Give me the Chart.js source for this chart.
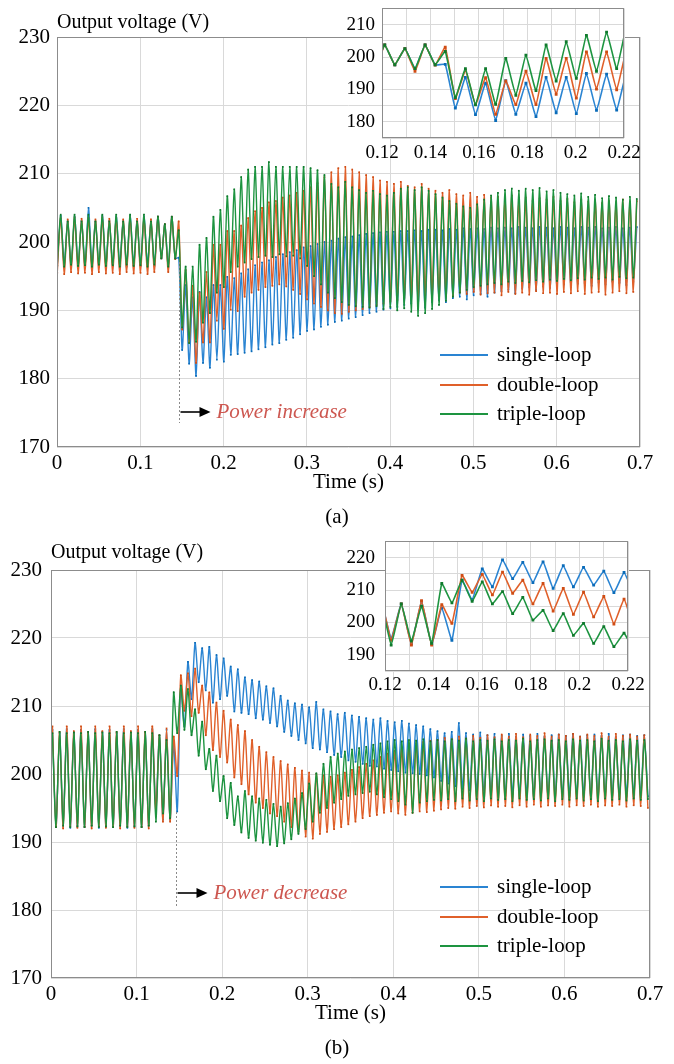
<!DOCTYPE html>
<html>
<head>
<meta charset="utf-8">
<script src="https://cdn.jsdelivr.net/npm/chart.js@4.4.0/dist/chart.umd.min.js"></script>
<style>
  body { margin: 0; background: #fff; width: 674px; height: 1064px; position: relative; overflow: hidden; }
  canvas { position: absolute; }
</style>
</head>
<body>
<canvas id="mainA" width="674" height="530" style="left:0;top:0;width:674px;height:530px"></canvas>
<canvas id="insetA" width="320" height="182" style="left:330px;top:-10px;width:320px;height:182px"></canvas>
<canvas id="mainB" width="674" height="534" style="left:0;top:530px;width:674px;height:534px"></canvas>
<canvas id="insetB" width="320" height="182" style="left:330px;top:520px;width:320px;height:182px"></canvas>
<script>
//series names + colours (line, marker)
const seriesNames = ["single-loop", "double-loop", "triple-loop"];
const lineColors = ["#2a84d2", "#e0602a", "#1d9440"];
const dotColors = ["#0a6bb8", "#cf4c14", "#0f7a2c"];

//ripple is 120 Hz, one peak + one trough per cycle
const period = 1 / 120;

//(a) power increase: troughs start at t=0.0003 s, peaks half a period later
const aStart = 0.0003;
const aSingleLo = [196.5, 196.8, 196.4, 196.6, 196.5, 196.7, 196.4, 196.6, 196.5, 196.8, 196.4, 196.6, 196.5, 196.7, 196.5, 197.6, 196.4,
  197.6, 184.2, 182.2, 180.4, 182.3, 181.6, 182.8, 182.5, 183.5, 183.6,
  183.8, 184.0, 184.3, 184.6, 185.0, 185.2, 185.7, 186.0, 186.5, 187.0, 187.2, 187.6, 187.9, 188.3, 188.5, 188.8, 189.0, 189.3,
  189.6, 189.8, 190.1, 190.3, 190.5, 190.8, 191.0, 191.0, 190.4, 191.2, 191.5, 191.2, 191.8, 192.0, 191.6, 192.2, 192.4, 192.0,
  192.6, 192.8, 193.0, 192.5, 193.2, 193.4, 193.0, 193.5, 193.3, 193.6, 193.8, 193.4, 193.9, 194.0, 193.6, 194.1, 193.8, 194.2, 194.0, 193.7, 194.2];
const aSingleHi = [203.8, 203.0, 203.7, 203.1, 205.0, 203.0, 203.8, 203.1, 203.7, 203.0, 203.8, 203.1, 203.7, 203.0, 203.7, 202.6, 203.7,
  197.7, 193.7, 191.9, 192.7, 191.9, 193.7, 193.7, 194.9, 194.7, 195.4,
  196.0, 196.6, 197.0, 197.3, 197.8, 198.2, 198.5, 198.8, 199.2, 199.4, 199.7, 200.0, 200.2, 200.5, 200.7, 200.8, 201.0, 201.2,
  201.3, 201.4, 201.5, 201.5, 201.6, 201.6, 201.7, 201.6, 201.8, 201.8, 201.7, 201.9, 201.8, 202.0, 201.9, 202.0, 201.9, 202.1,
  202.0, 202.1, 202.0, 202.2, 202.1, 202.0, 202.2, 202.1, 202.0, 202.2, 202.1, 202.0, 202.2, 202.1, 202.2, 202.0, 202.1, 202.2, 202.0, 202.1, 202.2];
const aDoubleLo = [195.5, 195.3, 195.6, 195.4, 195.5, 195.3, 195.6, 195.4, 195.5, 195.3, 195.6, 195.4, 195.5, 195.3, 195.6, 197.6, 195.6,
  197.5, 187.2, 185.3, 182.3, 185.3, 185.3, 188.5, 187.3, 190.1, 189.9,
  192.0, 192.6, 193.0, 193.4, 193.6, 193.8, 193.5, 193.0, 192.4, 191.6, 191.0, 190.5, 190.0, 189.6, 189.5, 189.8, 190.0, 190.2,
  190.5, 190.8, 191.0, 191.3, 191.5, 191.8, 192.0, 191.6, 192.2, 192.3, 192.0, 192.5, 192.2, 192.6, 192.4, 192.7, 192.3, 192.5,
  192.6, 192.2, 192.7, 192.4, 192.6, 192.3, 192.8, 192.5, 192.6, 192.4, 192.7, 192.5, 192.8, 192.4, 192.6, 192.7, 192.3, 192.6, 192.8, 192.5, 192.7];
const aDoubleHi = [203.5, 203.3, 203.6, 203.4, 203.5, 203.3, 203.6, 203.4, 203.5, 203.3, 203.6, 203.4, 203.5, 203.3, 203.7, 202.6, 203.7,
  203.0, 195.9, 193.6, 192.6, 195.6, 199.6, 199.6, 201.6, 201.6, 202.4,
  203.5, 204.5, 205.0, 205.8, 206.0, 206.5, 206.8, 207.2, 207.5, 208.0, 208.6, 209.5, 210.2, 210.8, 211.0, 210.6, 210.2, 209.8,
  209.5, 209.0, 208.8, 208.5, 208.8, 208.2, 208.0, 208.5, 207.8, 207.5, 207.2, 207.6, 207.0, 206.8, 207.2, 206.6, 206.9, 206.5,
  206.6, 206.3, 206.8, 206.2, 206.5, 206.0, 206.4, 206.2, 206.6, 206.0, 206.3, 205.8, 206.2, 205.9, 206.1, 205.7, 206.0, 205.8, 206.2, 205.9, 206.0];
const aTripleLo = [196.6, 196.4, 196.7, 196.5, 196.6, 196.4, 196.7, 196.5, 196.6, 196.4, 196.7, 196.5, 196.6, 196.4, 196.7, 197.6, 196.4,
  197.6, 187.5, 185.2, 185.4, 188.2, 189.6, 192.6, 193.4, 195.6, 196.4,
  197.0, 197.5, 197.8, 198.0, 197.8, 198.2, 197.9, 198.0, 197.6, 196.5, 195.0, 193.8, 192.6, 191.8, 191.2, 190.8, 190.6, 190.5,
  190.4, 190.6, 190.2, 190.5, 190.0, 190.3, 189.8, 189.2, 189.6, 190.2, 190.8, 191.4, 192.0, 192.6, 193.0, 193.4, 193.6, 193.8,
  194.0, 193.8, 194.2, 194.0, 194.3, 194.1, 194.4, 194.2, 194.5, 194.3, 194.6, 194.4, 194.7, 194.5, 194.8, 194.6, 194.8, 194.5, 194.9, 194.7, 194.8];
const aTripleHi = [204.0, 203.0, 204.0, 203.0, 204.0, 203.0, 204.0, 203.0, 204.0, 203.0, 204.0, 203.0, 204.0, 203.0, 203.7, 202.6, 203.7,
  201.7, 196.4, 196.4, 199.6, 200.6, 203.7, 204.7, 206.7, 207.7, 209.5,
  210.6, 211.0, 211.0, 211.7, 211.0, 211.0, 211.0, 211.0, 211.0, 210.8, 210.5, 209.8, 208.5, 208.0, 208.8, 208.0, 207.6, 207.2,
  207.5, 207.0, 206.8, 207.2, 207.8, 208.0, 207.6, 208.0, 207.5, 207.0, 206.5, 206.0, 205.6, 205.2, 205.0, 205.5, 206.2, 206.8,
  207.2, 207.6, 207.8, 207.5, 207.8, 207.6, 207.9, 207.4, 207.6, 207.2, 207.0, 206.8, 207.1, 206.6, 206.9, 206.4, 206.7, 206.5, 206.2, 206.6, 206.3];

//(b) power decrease: peaks start at t=0.0017 s, troughs half a period later
const bStart = 0.0017;
const bSingleHi = [206.5, 206.0, 206.6, 206.1, 206.5, 206.0, 206.6, 206.1, 206.5, 206.0, 206.6, 206.1, 206.5, 206.0, 206.6, 205.7, 206.5,
  204.5, 213.0, 216.5, 219.3, 218.5, 218.7, 217.5, 217.0, 215.8, 215.4,
  214.2, 213.8, 213.6, 212.9, 212.6, 211.5, 210.8, 210.4, 210.2, 209.8, 210.6, 209.5, 209.2, 208.8, 209.0, 208.6, 208.4, 208.2,
  208.0, 208.2, 207.8, 207.6, 207.8, 207.4, 207.2, 207.0, 206.6, 206.3, 206.0, 206.2, 207.5, 206.0, 205.8, 206.1, 205.7, 205.9,
  205.6, 205.9, 205.5, 205.8, 205.6, 205.9, 205.5, 205.7, 205.8, 205.6, 205.9, 205.5, 205.7, 205.8, 205.6, 205.9, 205.5, 205.7, 205.8, 205.6, 205.7];
const bSingleLo = [192.2, 192.4, 192.1, 192.3, 192.2, 192.4, 192.1, 192.3, 192.2, 192.4, 192.1, 192.3, 192.2, 192.4, 195.0, 193.3, 193.3,
  194.5, 207.0, 211.0, 213.5, 212.3, 210.5, 211.0, 211.5, 209.2, 209.0,
  208.8, 208.2, 208.0, 207.5, 207.0, 206.2, 205.6, 205.0, 204.5, 203.8, 203.6, 203.2, 202.8, 202.5, 202.0, 201.8, 201.5, 201.2,
  201.1, 200.8, 200.6, 200.4, 200.2, 200.1, 200.0, 199.8, 199.5, 199.0, 198.6, 198.2, 197.8, 197.6, 197.4, 197.2, 197.0, 196.9,
  196.8, 197.0, 196.7, 196.9, 196.6, 196.8, 196.7, 196.9, 196.6, 196.8, 196.7, 196.9, 196.6, 196.8, 196.7, 196.9, 196.6, 196.8, 196.7, 196.9, 196.7];
const bDoubleHi = [207.0, 206.2, 207.0, 206.3, 207.0, 206.2, 207.0, 206.3, 207.0, 206.2, 207.0, 206.3, 207.0, 206.2, 207.0, 205.7, 206.7,
  205.5, 214.5, 214.8, 215.5, 213.0, 212.0, 210.5, 209.3, 208.0, 207.2,
  206.3, 205.0, 204.0, 203.2, 202.5, 201.9, 201.4, 200.9, 200.5, 200.2, 200.0, 199.8, 199.6, 199.8, 200.2, 200.6, 201.0, 201.5,
  202.0, 202.5, 203.0, 203.4, 203.8, 204.2, 204.5, 204.7, 204.9, 205.0, 205.3, 205.1, 205.5, 205.2, 205.6, 205.3, 205.7, 205.4,
  205.8, 205.5, 205.9, 205.4, 205.8, 205.6, 206.0, 205.5, 205.8, 205.6, 205.9, 205.5, 205.8, 205.6, 206.0, 205.5, 205.9, 205.6, 205.8, 205.5, 205.7];
const bDoubleLo = [192.2, 192.0, 192.3, 192.1, 192.2, 192.0, 192.3, 192.1, 192.2, 192.0, 192.3, 192.1, 192.2, 192.0, 194.5, 193.0, 193.0,
  199.7, 209.3, 208.5, 209.0, 205.7, 203.5, 202.5, 201.7, 199.5, 198.5,
  197.0, 195.8, 195.0, 194.2, 193.8, 193.0, 192.2, 191.5, 190.8, 190.5, 191.2, 191.5, 191.9, 192.2, 192.6, 193.0, 193.5, 193.8,
  194.0, 194.3, 194.5, 194.2, 194.0, 194.3, 194.5, 194.4, 194.6, 194.8, 195.0, 194.9, 195.2, 195.0, 195.3, 195.1, 195.4, 195.2,
  195.3, 195.1, 195.4, 195.2, 195.5, 195.2, 195.4, 195.3, 195.5, 195.2, 195.4, 195.3, 195.5, 195.2, 195.4, 195.3, 195.5, 195.2, 195.4, 195.3, 195.0];
const bTripleHi = [206.0, 206.2, 206.0, 206.1, 206.0, 206.2, 206.0, 206.1, 206.0, 206.2, 206.0, 206.1, 206.0, 206.2, 206.0, 205.7, 205.0,
  212.0, 213.0, 212.5, 209.5, 207.7, 203.7, 202.7, 199.7, 198.7, 196.7,
  197.5, 196.7, 196.4, 196.2, 195.6, 195.2, 195.7, 196.4, 197.2, 198.6, 200.1, 201.5, 202.5, 203.0, 203.3, 203.6, 203.8, 204.0,
  204.3, 204.5, 204.8, 205.0, 204.8, 205.0, 204.9, 205.1, 204.8, 205.0, 204.8, 205.1, 204.9, 205.2, 204.8, 205.0, 204.9, 205.1,
  204.8, 205.0, 204.9, 205.2, 204.8, 205.0, 205.1, 204.9, 205.0, 204.8, 205.1, 204.9, 205.0, 204.8, 205.2, 204.9, 205.0, 204.8, 205.1, 204.9, 205.0];
const bTripleLo = [192.2, 192.4, 192.2, 192.3, 192.2, 192.4, 192.2, 192.3, 192.2, 192.4, 192.2, 192.3, 192.2, 192.4, 193.0, 194.2, 193.5,
  206.0, 206.5, 205.7, 202.7, 200.7, 197.5, 196.0, 193.5, 192.5, 191.4,
  190.6, 190.2, 189.9, 189.6, 189.4, 189.8, 190.4, 191.2, 191.9, 193.0, 194.3, 195.0, 195.8, 196.3, 196.8, 197.0, 197.2, 197.4,
  197.0, 196.6, 196.3, 196.0, 195.5, 194.3, 195.8, 196.0, 196.2, 196.1, 196.3, 196.0, 196.4, 196.1, 196.3, 196.0, 196.4, 196.2,
  196.3, 196.0, 196.4, 196.2, 196.3, 196.1, 196.4, 196.0, 196.3, 196.2, 196.4, 196.1, 196.3, 196.0, 196.4, 196.2, 196.3, 196.1, 196.4, 196.2, 196.3];

//axis ranges
const mainXRange = [0, 0.7], mainYRange = [170, 230];
const insetXRange = [0.12, 0.22];
const insetARange = [175, 215], insetBRange = [185, 225];

const serif = "'Liberation Serif', 'Times New Roman', serif";
Chart.defaults.font.family = serif;

//turn peak/trough lists into {x,y} points
function toPoints(hi, lo, t0, loFirst) {
  const pts = [];
  for (let k = 0; k < hi.length; k++) {
    const t = t0 + k * period;
    if (loFirst) {
      pts.push({ x: t, y: lo[k] }, { x: t + period / 2, y: hi[k] });
    } else {
      pts.push({ x: t, y: hi[k] }, { x: t + period / 2, y: lo[k] });
    }
  }
  return pts;
}

const seriesA = [toPoints(aSingleHi, aSingleLo, aStart, true), toPoints(aDoubleHi, aDoubleLo, aStart, true), toPoints(aTripleHi, aTripleLo, aStart, true)];
const seriesB = [toPoints(bSingleHi, bSingleLo, bStart, false), toPoints(bDoubleHi, bDoubleLo, bStart, false), toPoints(bTripleHi, bTripleLo, bStart, false)];

//box, captions, legend and the power step marker
const decorPlugin = {
  id: "decor",
  beforeDraw(chart, args, o) {
    if (!o.whiteArea) return;
    const a = chart.chartArea, ctx = chart.ctx;
    ctx.save();
    ctx.fillStyle = "#fff";
    ctx.fillRect(a.left, a.top, a.right - a.left, a.bottom - a.top);
    ctx.restore();
  },
  afterDraw(chart, args, o) {
    const ctx = chart.ctx, a = chart.chartArea;
    ctx.save();
    ctx.strokeStyle = "#8c8c8c";
    ctx.lineWidth = 1;
    ctx.strokeRect(Math.round(a.left) + 0.5, Math.round(a.top) + 0.5, Math.round(a.right - a.left) - 1, Math.round(a.bottom - a.top) - 1);
    ctx.fillStyle = "#000";

    if (o.caption) {
      ctx.font = "20px " + serif;
      ctx.textAlign = "left";
      ctx.textBaseline = "alphabetic";
      ctx.fillText(o.caption.text, a.left, o.caption.y);
    }
    if (o.xTitle) {
      ctx.font = "21px " + serif;
      ctx.textAlign = "center";
      ctx.textBaseline = "middle";
      ctx.fillText(o.xTitle.text, (a.left + a.right) / 2, o.xTitle.y);
      ctx.fillText(o.sub.text, o.sub.x, o.sub.y);
    }
    if (o.marker) {
      const m = o.marker;
      const x = Math.round(chart.scales.x.getPixelForValue(m.t)) + 0.5;
      ctx.strokeStyle = "#8a8a8a";
      ctx.setLineDash([2, 2]);
      ctx.beginPath();
      ctx.moveTo(x, m.y1);
      ctx.lineTo(x, m.y2);
      ctx.stroke();
      ctx.setLineDash([]);
      //arrow
      ctx.strokeStyle = "#000";
      ctx.lineWidth = 1.6;
      ctx.beginPath();
      ctx.moveTo(x + 1, m.ay);
      ctx.lineTo(x + m.len - 8, m.ay);
      ctx.stroke();
      ctx.beginPath();
      ctx.moveTo(x + m.len, m.ay);
      ctx.lineTo(x + m.len - 11, m.ay - 5);
      ctx.lineTo(x + m.len - 11, m.ay + 5);
      ctx.closePath();
      ctx.fill();
      ctx.font = "italic 21px " + serif;
      ctx.fillStyle = "#cd5750";
      ctx.textAlign = "left";
      ctx.textBaseline = "middle";
      ctx.fillText(m.text, x + m.len + 6, m.ay);
    }
    if (o.legend) {
      const l = o.legend;
      ctx.font = "21px " + serif;
      ctx.textAlign = "left";
      ctx.textBaseline = "middle";
      ctx.lineWidth = 2;
      seriesNames.forEach((name, i) => {
        const y = l.ys[i];
        ctx.strokeStyle = lineColors[i];
        ctx.beginPath();
        ctx.moveTo(l.x1, y);
        ctx.lineTo(l.x2, y);
        ctx.stroke();
        ctx.fillStyle = "#000";
        ctx.fillText(name, l.tx, y);
      });
    }
    ctx.restore();
  }
};

function makeDatasets(series, radius, width, tension) {
  //green drawn on top, blue at the bottom
  return series.map((pts, i) => ({
    label: seriesNames[i],
    data: pts,
    borderColor: lineColors[i],
    backgroundColor: dotColors[i],
    borderWidth: width,
    pointRadius: radius,
    pointStyle: "rect",
    pointBorderWidth: 0,
    pointBackgroundColor: dotColors[i],
    tension: tension,
    order: 2 - i
  }));
}

function makeChart(id, series, cfg) {
  const tickFont = { family: serif, size: cfg.fontSize };
  return new Chart(document.getElementById(id), {
    type: "line",
    data: { datasets: makeDatasets(series, cfg.radius, cfg.lineWidth, cfg.tension) },
    options: {
      responsive: false,
      animation: false,
      events: [],
      devicePixelRatio: 1,
      layout: { padding: cfg.padding },
      scales: {
        x: {
          type: "linear",
          min: cfg.xRange[0],
          max: cfg.xRange[1],
          afterFit: (s) => { s.height = cfg.xh; },
          grid: { color: "#d9d9d9", drawTicks: false },
          border: { display: false },
          ticks: {
            stepSize: cfg.xStep,
            autoSkip: false,
            maxRotation: 0,
            padding: cfg.xPad,
            color: "#000",
            font: tickFont,
            callback: cfg.xLabel
          }
        },
        y: {
          min: cfg.yRange[0],
          max: cfg.yRange[1],
          afterFit: (s) => { s.width = cfg.yw; },
          grid: { color: "#d9d9d9", drawTicks: false },
          border: { display: false },
          ticks: {
            stepSize: cfg.yStep,
            autoSkip: false,
            padding: cfg.yPad,
            color: "#000",
            font: tickFont,
            callback: cfg.yLabel
          }
        }
      },
      plugins: {
        legend: { display: false },
        tooltip: { enabled: false },
        decor: cfg.decor
      }
    },
    plugins: [decorPlugin]
  });
}

const mainXLabel = (v) => String(Math.round(v * 10) / 10);
const mainYLabel = (v) => String(Math.round(v));
const insetXLabel = (v) => { const r = Math.round(v * 100); return r % 2 === 0 ? String(r / 100) : ""; };
const insetYLabel = (v) => { const r = Math.round(v); return r % 10 === 0 ? String(r) : ""; };

//(a) main
makeChart("mainA", seriesA, {
  xRange: mainXRange, yRange: mainYRange, xStep: 0.1, yStep: 10,
  padding: { top: 37, right: 34, left: 0, bottom: 0 }, xh: 83, yw: 57, xPad: 4, yPad: 7,
  fontSize: 21, radius: 1.2, lineWidth: 1.4, tension: 0.25, xLabel: mainXLabel, yLabel: mainYLabel,
  decor: {
    caption: { text: "Output voltage (V)", y: 28 },
    xTitle: { text: "Time (s)", y: 482 },
    sub: { text: "(a)", x: 337, y: 517 },
    marker: { t: 0.1465, y1: 262, y2: 423, ay: 412, len: 31, text: "Power increase" },
    legend: { x1: 440, x2: 488, tx: 497, ys: [355, 385, 414] }
  }
});

//(a) zoomed view
makeChart("insetA", seriesA, {
  xRange: insetXRange, yRange: insetARange, xStep: 0.01, yStep: 5,
  padding: { top: 16, right: 26, left: 0, bottom: 0 }, xh: 34, yw: 52, xPad: 4, yPad: 7,
  fontSize: 19, radius: 2, lineWidth: 1.6, tension: 0.1, xLabel: insetXLabel, yLabel: insetYLabel,
  decor: { whiteArea: true }
});

//(b) main
makeChart("mainB", seriesB, {
  xRange: mainXRange, yRange: mainYRange, xStep: 0.1, yStep: 10,
  padding: { top: 40, right: 24, left: 0, bottom: 0 }, xh: 86, yw: 51, xPad: 4, yPad: 9,
  fontSize: 21, radius: 1.2, lineWidth: 1.4, tension: 0.25, xLabel: mainXLabel, yLabel: mainYLabel,
  decor: {
    caption: { text: "Output voltage (V)", y: 28 },
    xTitle: { text: "Time (s)", y: 483 },
    sub: { text: "(b)", x: 337, y: 518 },
    marker: { t: 0.1465, y1: 282, y2: 376, ay: 363, len: 31, text: "Power decrease" },
    legend: { x1: 440, x2: 488, tx: 497, ys: [357, 387, 416] }
  }
});

//(b) zoomed view
makeChart("insetB", seriesB, {
  xRange: insetXRange, yRange: insetBRange, xStep: 0.01, yStep: 5,
  padding: { top: 18, right: 22, left: 0, bottom: 0 }, xh: 31, yw: 55, xPad: 3, yPad: 10,
  fontSize: 19, radius: 2, lineWidth: 1.6, tension: 0.1, xLabel: insetXLabel, yLabel: insetYLabel,
  decor: { whiteArea: true }
});
</script>
</body>
</html>
